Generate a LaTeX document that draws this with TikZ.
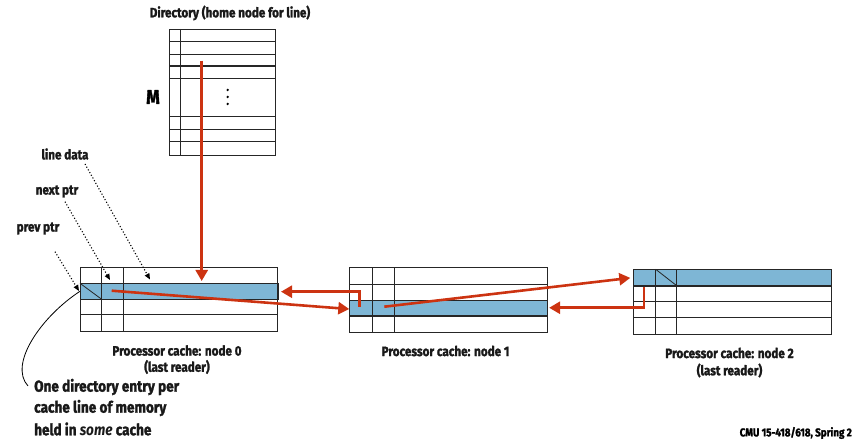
\documentclass[tikz,border=0pt]{standalone}
\usepackage{fontspec}
\setmainfont[FakeStretch=0.86, BoldFeatures={FakeBold=1.7}]{Fira Sans}
\usetikzlibrary{arrows.meta}
\definecolor{rowblue}{HTML}{7EB6D5}
\definecolor{arrred}{HTML}{CC3311}
\tikzset{
  grid/.style={draw=black!85, line width=0.8pt},
  rowbox/.style={draw=black!85, line width=0.8pt, fill=rowblue, inner sep=0pt, anchor=north west},
  redarrow/.style={draw=arrred, line width=2.6pt, -{Triangle[length=11pt,width=12pt]}},
  dotarrow/.style={draw=black, line width=1.1pt, dotted, -{Triangle[length=6pt,width=5pt]}},
  lbl/.style={font=\bfseries\fontsize{13.6}{15}\selectfont, inner sep=0pt, text=black!90},
  note/.style={font=\bfseries\fontsize{15.8}{17}\selectfont, inner sep=0pt, text=black!90, anchor=west},
}
\begin{document}
\begin{tikzpicture}[x=1pt,y=-1pt]
\useasboundingbox (0,0) rectangle (854,443);

% ---------------- directory ----------------
\node[lbl] (dirtitle) at (230,13) {Directory (home node for line)};
\node[draw=none, minimum width=106.7pt, minimum height=126pt, inner sep=0pt, anchor=north west] (dir) at (169,29) {};
\foreach \y in {41.3,54,78.3,116.7,129.3,141.7} \draw[grid] (169,\y) -- (275.7,\y);
\draw[grid, line width=1.1pt] (169,66) -- (275.7,66);
\draw[grid] (180.7,29) -- (180.7,155);
\draw[grid] (169,29) rectangle (275.7,155);
\foreach \y in {90,97,104} \fill[black] (227.7,\y) circle (1.3pt);
\node[font=\bfseries\fontsize{20}{22}\selectfont, inner sep=0pt] (M) at (153,97) {M};

% ---------------- node 0 ----------------
\node[rowbox, minimum width=197.7pt, minimum height=16pt] (r0) at (80,283.3) {};
\draw[grid] (80,267) rectangle (277.7,331.7);
\foreach \y in {283.3,299.3,314.3} \draw[grid] (80,\y) -- (277.7,\y);
\foreach \x in {101.7,123.3} \draw[grid] (\x,267) -- (\x,331.7);
\draw[grid] (80,283.3) -- (101.7,299.3);
\node[lbl] (l0a) at (177,350.5) {Processor cache: node 0};
\node[lbl] (l0b) at (177,367) {(last reader)};

% ---------------- node 1 ----------------
\node[rowbox, minimum width=198pt, minimum height=15.7pt] (r1) at (349.3,300) {};
\draw[grid] (349.3,267.7) rectangle (547.3,332.3);
\foreach \y in {284,300,315.7} \draw[grid] (349.3,\y) -- (547.3,\y);
\foreach \x in {372.3,394} \draw[grid] (\x,267.7) -- (\x,332.3);
\node[lbl] (l1a) at (445.5,351) {Processor cache: node 1};

% ---------------- node 2 ----------------
\node[rowbox, minimum width=197.7pt, minimum height=16.4pt] (r2) at (633.3,269.3) {};
\draw[grid] (633.3,269.3) rectangle (831,334);
\foreach \y in {285.7,301.7,317.3} \draw[grid] (633.3,\y) -- (831,\y);
\foreach \x in {655.7,676.7} \draw[grid] (\x,269.3) -- (\x,334);
\draw[grid] (655.7,269.3) -- (676.7,285.7);
\node[lbl] (l2a) at (729.5,353) {Processor cache: node 2};
\node[lbl] (l2b) at (729.5,370.5) {(last reader)};

% ---------------- red pointers ----------------
\coordinate (ds) at (201.7,60.7);
\coordinate (dt) at (201.7,281);
\draw[redarrow] (ds) -- (dt);

\coordinate (n0s) at (111.7,290.7);
\draw[redarrow] (n0s) -- ([yshift=-0.8pt]r1.west);

\coordinate (n1b) at (359.3,306.7);
\draw[redarrow] (n1b) |- ([xshift=2.5pt]r0.east);

\coordinate (n1s) at (384.3,306.7);
\draw[redarrow] (n1s) -- ([xshift=-3pt]r2.west);

\coordinate (n2b) at (644,286.7);
\draw[redarrow] (n2b) |- ([xshift=1pt,yshift=0.5pt]r1.east);

% ---------------- field labels ----------------
\node[lbl] (ld) at (65,154) {line data};
\node[lbl] (np) at (57,191.5) {next ptr};
\node[lbl] (pp) at (38,228.5) {prev ptr};
\coordinate (lds) at (85,164);
\coordinate (ldt) at (150,279.5);
\coordinate (nps) at (65,201.7);
\coordinate (npt) at (110,280);
\coordinate (pps) at (55,251.7);
\coordinate (ppt) at (79,291);
\draw[dotarrow] (lds) -- (ldt);
\draw[dotarrow] (nps) -- (npt);
\draw[dotarrow] (pps) -- (ppt);

% ---------------- annotation ----------------
\coordinate (cs) at (80,291.3);
\coordinate (ce) at (28,386);
\draw[black, line width=0.8pt] (cs) .. controls (42,316) and (8,364) .. (ce);
\node[note] (n1) at (34,387) {One directory entry per};
\node[note] (n2) at (34,408) {cache line of memory};
\node[note] (n3) at (34,429) {held in \textit{some} cache};

\node[font=\bfseries\fontsize{11.4}{12}\selectfont, inner sep=0pt, anchor=east] (cmu) at (852,433) {CMU 15-418/618, Spring 2};
\end{tikzpicture}
\end{document}
